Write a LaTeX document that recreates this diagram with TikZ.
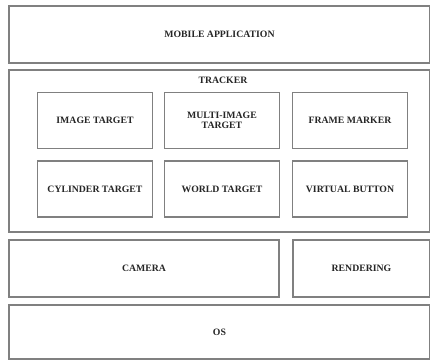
\documentclass[tikz,border=0pt]{standalone}
\usepackage{fontspec}
\setmainfont{Liberation Serif}
\begin{document}
\begin{tikzpicture}[x=1bp,y=-1bp,
  lbl/.style={font=\fontsize{9.8}{10}\selectfont\bfseries, text=black!85},
  blk/.style={draw=black!50, line width=1.2bp, rectangle, inner sep=0pt, align=center, lbl},
  tgt/.style={blk, minimum width=115bp, minimum height=56bp}]
\useasboundingbox (0,0) rectangle (430,360);
\fill[white] (0,0) rectangle (430,360);
\node[blk, minimum width=421bp, minimum height=57bp] (app) at (219.5,34.5) {MOBILE APPLICATION};
\node[blk, minimum width=421bp, minimum height=162bp] (trk) at (219.5,151) {};
\node[lbl] (trklbl) at (223,80) {TRACKER};
\node[tgt] (img) at (95,120.5) {IMAGE TARGET};
\node[tgt] (multi) at (222,120.5) {MULTI-IMAGE\\TARGET};
\node[tgt] (frame) at (350,120.5) {FRAME MARKER};
\node[tgt] (cyl) at (95,189) {CYLINDER TARGET};
\node[tgt] (world) at (222,189) {WORLD TARGET};
\node[tgt] (vbtn) at (350,189) {VIRTUAL BUTTON};
\node[blk, minimum width=270bp, minimum height=57bp] (cam) at (144,268.5) {CAMERA};
\node[blk, minimum width=137bp, minimum height=57bp] (rend) at (361.5,268.5) {RENDERING};
\node[blk, minimum width=421bp, minimum height=54bp] (os) at (219.5,332) {OS};
\end{tikzpicture}
\end{document}
